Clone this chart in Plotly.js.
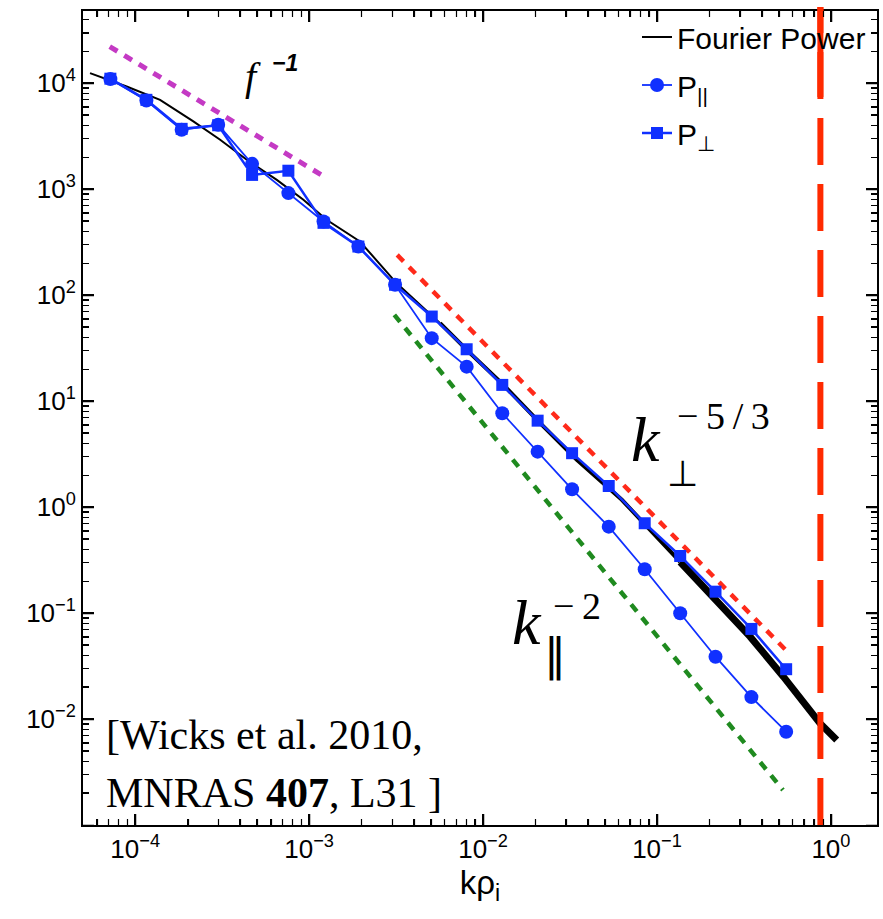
<!DOCTYPE html>
<html>
<head>
<meta charset="utf-8">
<script src="https://cdn.plot.ly/plotly-3.0.1.min.js"></script>
<style>html,body{margin:0;padding:0;background:#fff;}#chart{width:883px;height:919px;}</style>
</head>
<body>
<div id="chart"></div>
<script>
// Fourier power spectrum (black curve)
const fourierK = [5.5e-5, 8.93e-5, 1.39e-4, 2.16e-4, 3.08e-4, 4.38e-4, 6.52e-4, 9.27e-4, 1.26e-3, 1.96e-3, 3.19e-3, 5.66e-3, 8.42e-3, 1.31e-2, 2.13e-2, 3.46e-2, 6.28e-2, 0.136, 0.221, 0.343, 0.533, 0.665, 0.867, 1.08];
const fourierP = [1.24e4, 9.29e3, 6.95e3, 4.35e3, 2.92e3, 1.89e3, 1.22e3, 792, 513, 320, 129, 54.3, 28.3, 14.2, 6.18, 2.79, 1.17, 0.303, 0.133, 0.0598, 0.0251, 0.0162, 0.0091, 0.00634];

// wavelet spectra
const waveK = [7.2e-5, 1.16e-4, 1.85e-4, 3.0e-4, 4.7e-4, 7.6e-4, 1.21e-3, 1.92e-3, 3.12e-3, 5.07e-3, 8.05e-3, 1.29e-2, 2.06e-2, 3.25e-2, 5.28e-2, 8.5e-2, 0.136, 0.217, 0.349, 0.553];
const pPar  = [1.09e4, 6.85e3, 3.62e3, 4.04e3, 1.73e3, 916, 494, 287, 125, 39.2, 21.1, 7.67, 3.33, 1.47, 0.653, 0.259, 0.0995, 0.0387, 0.0161, 0.00759];
const pPerp = [1.10e4, 6.95e3, 3.70e3, 4.00e3, 1.36e3, 1.49e3, 480, 287, 125, 62.7, 30.8, 14.2, 6.53, 3.22, 1.58, 0.703, 0.345, 0.159, 0.0708, 0.0295];

// reference power laws
const fitF1K = [7.14e-5, 1.22e-3];      const fitF1P = [2.21e4, 1.31e3];
const fitPerpK = [3.21e-3, 0.550];      const fitPerpP = [239, 0.0448];
const fitParK = [3.09e-3, 0.530];       const fitParP = [65.0, 2.14e-3];
const ionScaleK = 0.87;

// ticks
const xTicks = [1e-4, 1e-3, 1e-2, 1e-1, 1];
const xTickLabels = ['10<sup>−4</sup>', '10<sup>−3</sup>', '10<sup>−2</sup>', '10<sup>−1</sup>', '10<sup>0</sup>'];
const yTicks = [1e-2, 1e-1, 1, 10, 100, 1e3, 1e4];
const yTickLabels = ['10<sup>−2</sup>', '10<sup>−1</sup>', '10<sup>0</sup>', '10<sup>1</sup>', '10<sup>2</sup>', '10<sup>3</sup>', '10<sup>4</sup>'];

(function () {
  const blue = '#1030ff';
  const sans = 'Liberation Sans, Arial, Helvetica, sans-serif';
  const serif = 'Liberation Serif, Times New Roman, serif';
  const toPX = v => (v - 83) / 794;
  const toPY = v => (825 - v) / 814;

  const traces = [
    {x: fitF1K, y: fitF1P, mode: 'lines', line: {color: '#c43ac4', width: 5, dash: '9px,8px'}, showlegend: false},
    {x: fitPerpK, y: fitPerpP, mode: 'lines', line: {color: '#ff2a1a', width: 4.5, dash: '9px,8px'}, showlegend: false},
    {x: fitParK, y: fitParP, mode: 'lines', line: {color: '#1f8a1f', width: 4.5, dash: '9px,8px'}, showlegend: false},
    {x: fourierK.slice(0, 12), y: fourierP.slice(0, 12), mode: 'lines', name: 'Fourier Power', legendgroup: 'f',
     line: {color: '#000', width: 2}},
    {x: fourierK.slice(11, 18), y: fourierP.slice(11, 18), mode: 'lines', legendgroup: 'f', showlegend: false,
     line: {color: '#000', width: 4}},
    {x: fourierK.slice(17), y: fourierP.slice(17), mode: 'lines', legendgroup: 'f', showlegend: false,
     line: {color: '#000', width: 7}},
    {x: waveK, y: pPar, mode: 'lines+markers', name: 'P<sub>||</sub>', legendgroup: 'a',
     line: {color: blue, width: 1.8}, marker: {symbol: 'circle', size: 14, color: blue}},
    {x: waveK, y: pPerp, mode: 'lines+markers', name: 'P<sub>⊥</sub>', legendgroup: 'b',
     line: {color: blue, width: 2.5}, marker: {symbol: 'square', size: 12, color: blue}}
  ];

  const annotations = [
    {x: toPX(253), y: toPY(77), text: '<i>f</i>', font: {family: serif, size: 40, color: '#000'}},
    {x: toPX(285), y: toPY(63), text: '<b><i>−1</i></b>', font: {family: sans, size: 23, color: '#000'}},
    {x: toPX(646), y: toPY(440), text: '<i>k</i>', font: {family: serif, size: 64, color: '#000'}},
    {x: toPX(723), y: toPY(416), text: '−\u20095\u2009/\u20093', font: {family: serif, size: 38, color: '#000'}},
    {x: toPX(682), y: toPY(473), text: '⊥', font: {family: 'DejaVu Sans, sans-serif', size: 36, color: '#000'}},
    {x: toPX(527), y: toPY(622), text: '<i>k</i>', font: {family: serif, size: 64, color: '#000'}},
    {x: toPX(577), y: toPY(606), text: '−\u20092', font: {family: serif, size: 38, color: '#000'}},
    {x: toPX(555), y: toPY(655), text: '‖', font: {family: 'DejaVu Sans, sans-serif', size: 44, color: '#000'}},
    {x: toPX(104), y: toPY(735), xanchor: 'left', text: '[Wicks et al. 2010,', font: {family: serif, size: 42, color: '#000'}},
    {x: toPX(104), y: toPY(793), xanchor: 'left', text: 'MNRAS <b>407</b>, L31 ]', font: {family: serif, size: 42, color: '#000'}}
  ].map(a => Object.assign({xref: 'paper', yref: 'paper', showarrow: false, xanchor: 'center', yanchor: 'middle'}, a));

  function axis(extra) {
    return Object.assign({
      type: 'log', showline: true, linecolor: '#000', linewidth: 2, mirror: 'ticks',
      ticks: 'inside', ticklen: 11, tickwidth: 1.5, tickcolor: '#000', showgrid: false, zeroline: false,
      tickmode: 'array', tickfont: {family: sans, size: 26, color: '#000'},
      minor: {ticks: 'inside', ticklen: 6, tickwidth: 1.2, tickcolor: '#000', showgrid: false, dtick: 'D1'}
    }, extra);
  }

  const layout = {
    width: 883, height: 919,
    margin: {l: 83, r: 6, t: 11, b: 94},
    paper_bgcolor: '#fff', plot_bgcolor: '#fff',
    showlegend: true,
    legend: {x: toPX(637), y: toPY(11), xanchor: 'left', yanchor: 'top', bgcolor: 'rgba(0,0,0,0)',
             font: {family: sans, size: 30, color: '#000'}, tracegroupgap: 6},
    xaxis: axis({range: [-4.30, 0.265], tickvals: xTicks, ticktext: xTickLabels,
            title: {text: 'kρ<sub>i</sub>', font: {family: sans, size: 33, color: '#000'}, standoff: 6}}),
    yaxis: axis({range: [-3, 4.68], tickvals: yTicks, ticktext: yTickLabels}),
    shapes: [
      {type: 'line', xref: 'x', yref: 'paper', x0: ionScaleK, x1: ionScaleK, y0: 0, y1: 1.005,
       line: {color: '#ff2a00', width: 6, dash: '47px,19px'}},
      {type: 'line', xref: 'x', yref: 'paper', x0: ionScaleK, x1: ionScaleK, y0: toPY(97), y1: toPY(7),
       line: {color: '#ff2a00', width: 6}}
    ],
    annotations: annotations
  };

  // Tick marks placed through the axes' own scale functions, drawn on the topmost layer
  function drawTickLayer(gd) {
    const fl = gd._fullLayout;
    const xa = fl.xaxis, ya = fl.yaxis;
    const NS = 'http://www.w3.org/2000/svg';
    const svgs = gd.querySelectorAll('svg.main-svg');
    const top = svgs[svgs.length - 1];
    const g = document.createElementNS(NS, 'g');
    g.setAttribute('class', 'tick-overlay');
    const left = xa._offset, right = xa._offset + xa._length;
    const upper = ya._offset, lower = ya._offset + ya._length;
    let dMajor = '', dMinor = '';
    function decadeTicks(ax) {
      const lo = Math.min(ax.range[0], ax.range[1]), hi = Math.max(ax.range[0], ax.range[1]);
      const maj = [], min = [];
      for (let e = Math.floor(lo); e <= Math.ceil(hi); e++) {
        if (e >= lo && e <= hi) maj.push(e);
        for (let d = 2; d <= 9; d++) { const l = e + Math.log10(d); if (l > lo && l < hi) min.push(l); }
      }
      return {maj, min};
    }
    const xt = decadeTicks(xa), yt = decadeTicks(ya);
    xt.maj.forEach(l => { const p = Math.round(xa._offset + xa.l2p(l)) + 0.5;
      dMajor += `M${p},${lower}v-11M${p},${upper}v11`; });
    xt.min.forEach(l => { const p = Math.round(xa._offset + xa.l2p(l)) + 0.5;
      dMinor += `M${p},${lower}v-6M${p},${upper}v6`; });
    yt.maj.forEach(l => { const p = Math.round(ya._offset + ya.l2p(l)) + 0.5;
      dMajor += `M${left},${p}h11M${right},${p}h-11`; });
    yt.min.forEach(l => { const p = Math.round(ya._offset + ya.l2p(l)) + 0.5;
      dMinor += `M${left},${p}h6M${right},${p}h-6`; });
    [[dMajor, 1.5], [dMinor, 1.2]].forEach(([d, w]) => {
      const path = document.createElementNS(NS, 'path');
      path.setAttribute('d', d);
      path.setAttribute('style', `stroke:#000;stroke-width:${w}px;fill:none;`);
      g.appendChild(path);
    });
    top.appendChild(g);
  }

  Plotly.newPlot('chart', traces, layout, {displayModeBar: false, staticPlot: true}).then(gd => {
    const old = gd.querySelector('g.tick-overlay');
    if (old) old.remove();
    drawTickLayer(gd);
  });
})();
</script>
</body>
</html>
